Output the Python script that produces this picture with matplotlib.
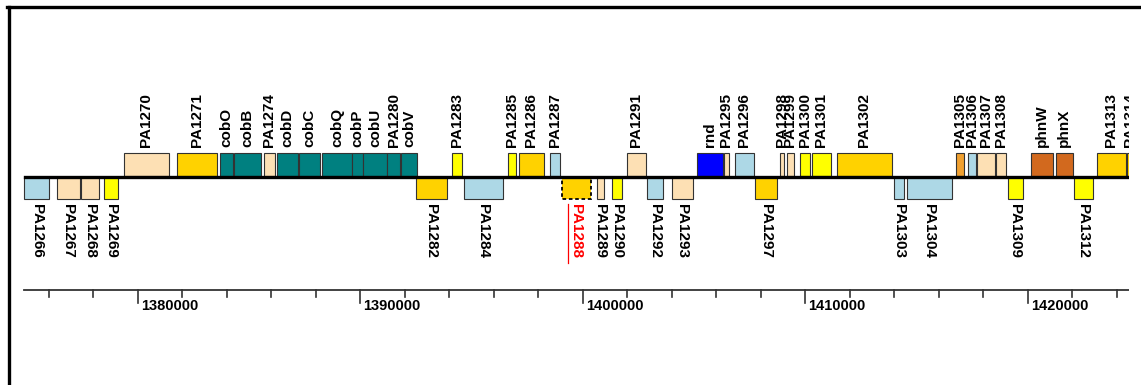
import matplotlib.pyplot as plt
from matplotlib.patches import Rectangle
from matplotlib.lines import Line2D

# gene map, PAO1 region around PA1288
genes = ['PA1266', 'PA1267', 'PA1268', 'PA1269', 'PA1270', 'PA1271', 'cobO', 'cobB',
         'PA1274', 'cobD', 'cobC', 'cobQ', 'cobP', 'cobU', 'PA1280', 'cobV', 'PA1282',
         'PA1283', 'PA1284', 'PA1285', 'PA1286', 'PA1287', 'PA1288', 'PA1289', 'PA1290',
         'PA1291', 'PA1292', 'PA1293', 'rnd', 'PA1295', 'PA1296', 'PA1297', 'PA1298',
         'PA1299', 'PA1300', 'PA1301', 'PA1302', 'PA1303', 'PA1304', 'PA1305', 'PA1306',
         'PA1307', 'PA1308', 'PA1309', 'phnW', 'phnX', 'PA1312', 'PA1313', 'PA1314']
starts = [1374900, 1376360, 1377440, 1378470, 1379370, 1381750, 1383690, 1384310,
          1385660, 1386250, 1387230, 1388270, 1389640, 1390130, 1391210, 1391820, 1392490,
          1394110, 1394650, 1396630, 1397120, 1398520, 1399055, 1400630, 1401300,
          1401980, 1402870, 1404000, 1405120, 1406335, 1406830, 1407730, 1408850,
          1409170, 1409750, 1410290, 1411410, 1413975, 1414560, 1416760, 1417300,
          1417700, 1418560, 1419100, 1420130, 1421255, 1422060, 1423100, 1424450]
ends = [1376000, 1377393, 1378250, 1379100, 1381390, 1383550, 1384270, 1385530,
        1386160, 1387190, 1388180, 1389620, 1390110, 1391190, 1391775, 1392540, 1393890,
        1394560, 1396400, 1396990, 1398250, 1398970, 1400360, 1400940, 1401750,
        1402830, 1403590, 1404940, 1406290, 1406560, 1407680, 1408720, 1409030,
        1409480, 1410200, 1411140, 1413890, 1414420, 1416580, 1417120, 1417660,
        1418510, 1419010, 1419770, 1421120, 1422020, 1422920, 1424400, 1424700]
strands = [-1, -1, -1, -1, 1, 1, 1, 1,
           1, 1, 1, 1, 1, 1, 1, 1, -1,
           1, -1, 1, 1, 1, -1, -1, -1,
           1, -1, -1, 1, 1, 1, -1, 1,
           1, 1, 1, 1, -1, -1, 1, 1,
           1, 1, -1, 1, 1, -1, 1, 1]
classes = ['lb', 'pe', 'pe', 'ye', 'pe', 'go', 'te', 'te',
           'pe', 'te', 'te', 'te', 'te', 'te', 'te', 'te', 'go',
           'ye', 'lb', 'ye', 'go', 'lb', 'go', 'pe', 'ye',
           'pe', 'lb', 'pe', 'bl', 'pe', 'lb', 'go', 'pe',
           'pe', 'ye', 'ye', 'go', 'lb', 'lb', 'or', 'lb',
           'pe', 'pe', 'ye', 'br', 'br', 'ye', 'go', 'go']
highlight = 'PA1288'

colors = {'lb': '#add8e6', 'pe': '#fde0b4', 'ye': '#ffff00', 'go': '#ffd200',
          'te': '#008080', 'bl': '#0000ff', 'or': '#f0a030', 'br': '#d2691e'}

W, H = 1141, 385
axes_w = 1129
xmin, xmax = 1373800, 1424540
bp_px = (xmax - xmin) / axes_w

fig = plt.figure(figsize=(W / 100, H / 100), dpi=100)
ax = fig.add_axes([0, 0, axes_w / W, 1])
ax.set_xlim(xmin, xmax)
ax.set_ylim(H, 0)
ax.axis('off')

font = 'Liberation Sans'
line_y = 177
track_start = xmin + 25 * bp_px

# genome line
ax.plot([track_start, xmax], [line_y, line_y], color='black', lw=2.4, zorder=3)

for name, s, e, st, c in zip(genes, starts, ends, strands, classes):
    dashed = name == highlight
    if st > 0:
        y0, h = 153, 23
    else:
        y0, h = 177, 22
    ax.add_patch(Rectangle((s, y0), e - s, h, facecolor=colors[c],
                           edgecolor='black' if dashed else '#333333',
                           lw=1.3 if dashed else 0.8,
                           linestyle=(0, (2, 1.5)) if dashed else '-', zorder=2))
    xc = (s + e) / 2
    if st > 0:
        ax.text(xc, 147, name, rotation=90, ha='center', va='bottom',
                fontsize=11, fontweight='bold', family=font, clip_on=True)
    else:
        col = 'red' if dashed else 'black'
        ax.text(xc, 204, name, rotation=-90, ha='center', va='top',
                fontsize=11, fontweight='bold', family=font, color=col, clip_on=True)
        if dashed:
            ux = xc - 8 * bp_px
            ax.plot([ux, ux], [204, 263], color='red', lw=0.9)

# scale ruler
axis_y = 290
ax.plot([xmin + 24 * bp_px, xmax], [axis_y, axis_y], color='#333333', lw=1.3)
for t in range(1376000, 1425000, 2000):
    major = t % 10000 == 0
    ax.plot([t, t], [axis_y, axis_y + (13 if major else 7)], color='#333333', lw=1.2)
    if major:
        ax.text(t + 3 * bp_px, 299, str(t), ha='left', va='top', fontsize=10.5,
                fontweight='bold', family=font)

# frame (left and top edges)
fig.add_artist(Line2D([8.5 / W, 8.5 / W], [0, 1 - 6.5 / H], color='black', lw=2.4))
fig.add_artist(Line2D([7.3 / W, 1], [1 - 6.5 / H, 1 - 6.5 / H], color='black', lw=2.4))

fig.savefig('out.png', dpi=100)
